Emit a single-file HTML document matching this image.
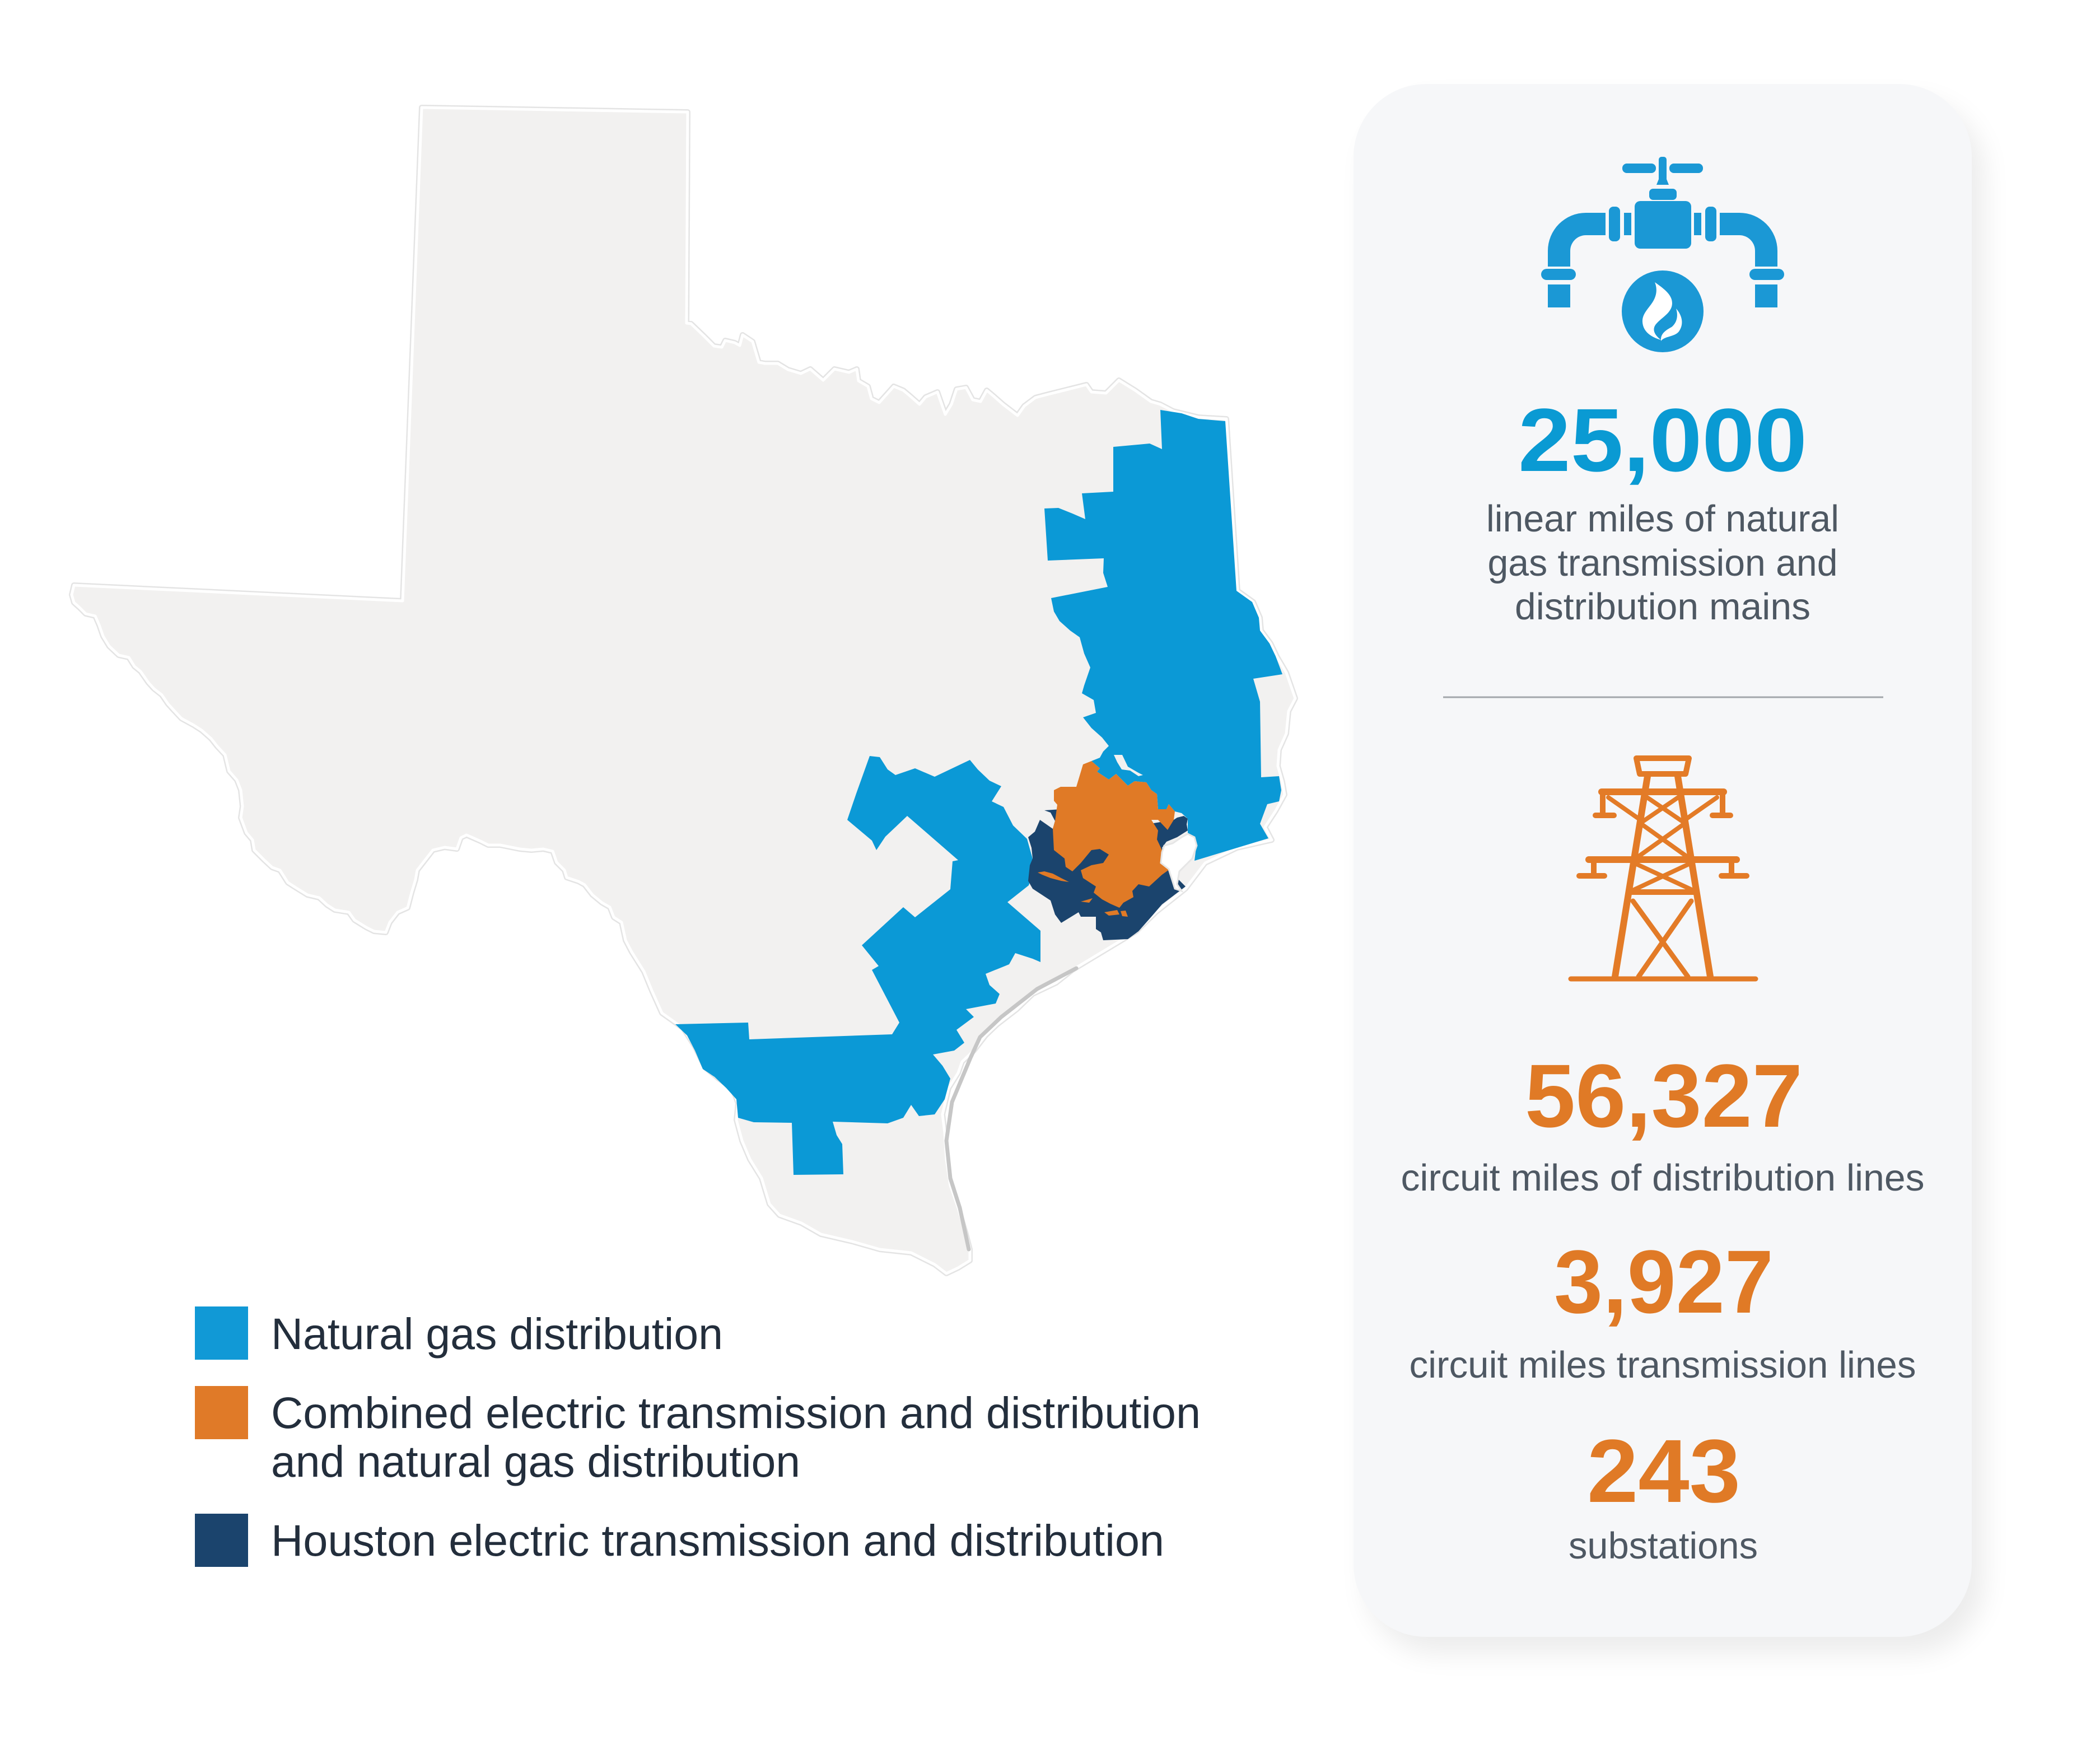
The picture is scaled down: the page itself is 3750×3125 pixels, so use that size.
<!DOCTYPE html>
<html>
<head>
<meta charset="utf-8">
<style>
  html,body{margin:0;padding:0;background:#ffffff;}
  body{width:3750px;height:3125px;position:relative;overflow:hidden;}
  .card{position:absolute;left:2417px;top:150px;width:1104px;height:2773px;border-radius:130px;background:#f6f7f9;box-shadow:22px 30px 48px rgba(0,0,0,0.08);}
  svg{position:absolute;left:0;top:0;}
</style>
</head>
<body>
<div class="card"></div>
<svg width="3750" height="3125" viewBox="0 0 3750 3125" xmlns="http://www.w3.org/2000/svg">
  <defs>
    <polygon id="tx" points="753,192 1228,200 1226,577 1234,578 1257,600 1275,618 1289,620 1295,608 1312,612 1321,617 1326,598 1344,610 1355,647 1366,649 1389,649 1407,660 1430,667 1447,659 1470,679 1490,659 1516,665 1530,659 1533,680 1550,690 1556,712 1570,719 1596,690 1613,697 1625,707 1642,722 1653,709 1674,700 1688,740 1699,722 1708,695 1725,692 1737,714 1751,717 1762,697 1774,707 1791,722 1817,742 1829,725 1849,710 1872,704 1912,694 1940,687 1949,700 1975,702 1998,679 2027,697 2055,717 2072,722 2095,734 2140,745 2190,748 2210,1055 2238,1075 2250,1103 2252,1126 2269,1149 2280,1172 2297,1201 2305,1224 2313,1247 2301,1270 2297,1310 2284,1339 2282,1368 2290,1396 2294,1419 2278,1448 2259,1477 2271,1500 2209,1514 2152,1541 2117,1587 2064,1629 2029,1663 2003,1679 1915,1732 1886,1755 1844,1775 1816,1802 1781,1829 1760,1849 1739,1876 1718,1896 1711,1916 1694,1943 1683,1990 1687,2023 1690,2070 1697,2117 1711,2157 1725,2204 1732,2231 1732,2251 1711,2264 1690,2274 1669,2258 1627,2237 1571,2231 1522,2217 1466,2204 1431,2184 1392,2170 1374,2150 1360,2104 1339,2070 1325,2037 1315,2000 1318,1970 1308,1943 1283,1926 1259,1906 1241,1869 1220,1836 1182,1809 1164,1769 1150,1735 1128,1700 1117,1679 1110,1647 1096,1638 1089,1620 1075,1612 1058,1598 1044,1580 1033,1574 1012,1567 1008,1554 994,1540 987,1520 970,1516 949,1518 928,1516 893,1509 872,1509 858,1502 833,1491 823,1496 816,1516 794,1513 773,1518 759,1536 745,1554 742,1571 735,1594 728,1621 710,1629 696,1647 689,1665 668,1663 654,1656 633,1643 623,1629 598,1625 584,1616 570,1603 549,1598 528,1585 514,1576 500,1554 486,1549 472,1536 454,1518 451,1500 440,1487 430,1460 433,1440 430,1411 423,1393 409,1377 402,1348 388,1333 377,1319 360,1304 346,1295 324,1283 310,1268 300,1257 289,1241 275,1230 265,1219 251,1199 240,1190 230,1174 212,1170 195,1154 184,1136 177,1116 170,1100 153,1096 142,1085 132,1076 128,1062 132,1045 719,1073"/>
  </defs>
  <!-- Texas -->
  <use href="#tx" fill="#f2f1f0" stroke="#e4e4e4" stroke-width="10" stroke-linejoin="round"/>
  <use href="#tx" fill="#f2f1f0" stroke="#ffffff" stroke-width="5" stroke-linejoin="round"/>

  <!-- NE blue -->
  <polygon fill="#0b99d6" points="2072,732 2110,738 2140,748 2188,752 2208,1055 2236,1075 2248,1103 2250,1126 2267,1149 2278,1172 2290,1204 2238,1212 2250,1253 2252,1388 2284,1386 2288,1411 2284,1431 2263,1436 2250,1471 2265,1497 2133,1537 2137,1505 2121,1489 2121,1462 2110,1452 2098,1449 2087,1436 2083,1445 2068,1445 2066,1418 2056,1411 2047,1397 2026,1395 2014,1403 1993,1382 1980,1392 1959,1378 1964,1372 1949,1359 1964,1353 1970,1342 1980,1332 1968,1317 1949,1300 1934,1281 1957,1273 1953,1250 1932,1238 1936,1224 1947,1192 1936,1167 1928,1138 1911,1126 1892,1109 1882,1092 1877,1068 1978,1048 1970,1023 1971,997 1871,1001 1865,908 1890,907 1915,917 1938,927 1932,881 1988,878 1988,798 2053,792 2075,802"/>
  <!-- lake gap -->
  <polygon fill="#f2f1f0" points="1989,1348 2004,1348 2014,1369 2033,1380 2041,1384 2033,1386 2018,1376 2003,1374 1995,1361"/>

  <!-- central / south blue -->
  <polygon fill="#0b99d6" points="1553,1350 1571,1352 1585,1374 1599,1384 1634,1372 1669,1387 1732,1357 1746,1374 1767,1394 1788,1404 1771,1431 1792,1441 1809,1474 1834,1498 1848,1548 1837,1581 1799,1611 1858,1662 1858,1718 1844,1712 1813,1702 1802,1722 1760,1739 1767,1759 1785,1775 1778,1792 1725,1802 1739,1816 1708,1839 1722,1862 1704,1876 1666,1883 1683,1903 1697,1926 1687,1963 1669,1990 1641,1993 1627,1973 1613,1996 1585,2006 1487,2003 1494,2027 1504,2043 1506,2097 1417,2098 1414,2005 1346,2004 1318,1996 1315,1963 1297,1943 1276,1923 1255,1909 1241,1876 1227,1849 1206,1829 1336,1826 1338,1856 1593,1847 1606,1826 1557,1732 1569,1725 1539,1688 1613,1620 1634,1638 1697,1588 1701,1538 1711,1536 1620,1457 1599,1477 1581,1494 1565,1518 1557,1501 1513,1464 1529,1417"/>

  <!-- navy -->
  <polygon fill="#1b446d" points="1865,1447 1876,1451 1884,1466 1880,1480 1857,1464 1848,1485 1836,1495 1842,1514 1844,1533 1839,1545 1836,1573 1844,1587 1876,1608 1884,1633 1895,1648 1926,1629 1930,1637 1957,1637 1957,1659 1966,1665 1970,1679 2014,1677 2033,1663 2056,1637 2075,1615 2117,1583 2096,1562 2089,1552 2075,1514 2083,1503 2102,1495 2121,1483 2119,1472 2121,1462 2114,1457 2102,1460 2096,1464 2000,1480 1895,1445"/>

  <!-- orange -->
  <polygon fill="#e07a26" points="1934,1365 1949,1359 1964,1372 1959,1378 1980,1392 1993,1382 2014,1403 2026,1395 2047,1397 2056,1411 2066,1418 2068,1445 2083,1445 2087,1436 2098,1449 2096,1464 2085,1482 2068,1464 2056,1464 2068,1483 2066,1499 2075,1518 2073,1541 2089,1552 2075,1562 2052,1583 2033,1579 2022,1591 2024,1602 2006,1612 1999,1621 1983,1614 1968,1606 1953,1594 1957,1583 1934,1568 1930,1554 1949,1545 1970,1541 1980,1526 1964,1516 1949,1518 1930,1541 1915,1556 1903,1548 1901,1533 1882,1518 1880,1480 1884,1466 1888,1437 1882,1430 1882,1411 1894,1405 1922,1405"/>
  <polygon fill="#e07a26" points="1853,1558 1865,1556 1880,1560 1895,1568 1909,1575 1895,1573 1876,1568 1861,1562"/>
  <polygon fill="#e07a26" points="1972,1629 1995,1625 1999,1633 1980,1635"/>
  <polygon fill="#e07a26" points="2001,1627 2010,1626 2014,1637 2004,1636"/>
  <polygon fill="#e07a26" points="1930,1610 1951,1604 1945,1612"/>

  <!-- Galveston bay -->
  <polygon fill="#ffffff" stroke="#e6e6e6" stroke-width="3" points="2079,1510 2094,1506 2110,1495 2121,1489 2133,1495 2137,1510 2129,1533 2117,1545 2106,1556 2102,1579 2110,1591 2098,1587 2092,1568 2087,1552 2073,1541 2075,1522"/>

  <!-- barrier island line -->
  <polyline fill="none" stroke="#c6c6c6" stroke-width="7" stroke-linecap="round" stroke-linejoin="round" points="1922,1729 1852,1766 1788,1816 1750,1852 1733,1889 1700,1968 1690,2037 1697,2104 1714,2157 1730,2231"/>

  <!-- Legend -->
  <rect x="348" y="2333" width="95" height="95" fill="#1199d6"/>
  <rect x="348" y="2475" width="95" height="95" fill="#e07a28"/>
  <rect x="348" y="2703" width="95" height="95" fill="#1b446d"/>
  <g font-family="Liberation Sans, sans-serif" font-size="79" fill="#232e3c">
    <text x="484" y="2409" textLength="807" lengthAdjust="spacingAndGlyphs">Natural gas distribution</text>
    <text x="484" y="2550" textLength="1660" lengthAdjust="spacingAndGlyphs">Combined electric transmission and distribution</text>
    <text x="484" y="2637" textLength="945" lengthAdjust="spacingAndGlyphs">and natural gas distribution</text>
    <text x="484" y="2778" textLength="1595" lengthAdjust="spacingAndGlyphs">Houston electric transmission and distribution</text>
  </g>

  <!-- Pipe icon -->
  <g fill="#1b98d5">
    <rect x="2897" y="292" width="60" height="17" rx="8"/>
    <rect x="2981" y="292" width="60" height="17" rx="8"/>
    <rect x="2962" y="280" width="14" height="48" rx="5"/>
    <polygon points="2958,330 2980,330 2976,320 2962,320"/>
    <rect x="2945" y="337" width="49" height="20" rx="7"/>
    <rect x="2919" y="359" width="101" height="85" rx="10"/>
    <g>
      <rect x="2900" y="380" width="13" height="40"/>
      <rect x="2873" y="369" width="20" height="62" rx="8"/>
      <path d="M2867,380 L2832,380 A68,68 0 0 0 2764,448 L2764,476 L2804,476 L2804,448 A28,28 0 0 1 2832,420 L2867,420 Z"/>
      <rect x="2752" y="480" width="62" height="20" rx="10"/>
      <rect x="2764" y="508" width="40" height="41"/>
    </g>
    <g transform="translate(5938,0) scale(-1,1)">
      <rect x="2900" y="380" width="13" height="40"/>
      <rect x="2873" y="369" width="20" height="62" rx="8"/>
      <path d="M2867,380 L2832,380 A68,68 0 0 0 2764,448 L2764,476 L2804,476 L2804,448 A28,28 0 0 1 2832,420 L2867,420 Z"/>
      <rect x="2752" y="480" width="62" height="20" rx="10"/>
      <rect x="2764" y="508" width="40" height="41"/>
    </g>
    <circle cx="2969" cy="556" r="73"/>
  </g>
  <g fill="#ffffff">
    <path d="M2955,504 C2975,518 2990,530 2985,548 C2980,563 2962,570 2955,582 C2950,592 2958,601 2966,607 C2948,602 2934,592 2933,575 C2932,560 2945,550 2952,538 C2958,528 2960,516 2955,504 Z"/>
    <path d="M2993,551 C3003,562 3008,578 2998,592 C2990,602 2972,600 2966,609 C2965,597 2972,591 2985,584 C2995,576 2997,563 2993,551 Z"/>
  </g>

  <!-- Divider -->
  <line x1="2577" y1="1245" x2="3363" y2="1245" stroke="#a3a7ab" stroke-width="3"/>

  <!-- Tower icon -->
  <g stroke="#e37b27" fill="none" stroke-linecap="round" stroke-linejoin="round">
    <path stroke-width="10" d="M2922,1354 L3016,1354 L3010,1382 L2928,1382 Z"/>
    <line stroke-width="12" x1="2942" y1="1386" x2="2884" y2="1744"/>
    <line stroke-width="12" x1="2996" y1="1386" x2="3054" y2="1744"/>
    <line stroke-width="12" x1="2860" y1="1414" x2="3078" y2="1414"/>
    <path stroke-width="10" d="M2862,1414 V1454 M2849,1456 H2882 M3076,1414 V1454 M3058,1456 H3090"/>
    <path stroke-width="8" d="M2872,1424 L2932,1466 M3066,1424 L3006,1466"/>
    <line stroke-width="12" x1="2837" y1="1535" x2="3101" y2="1535"/>
    <path stroke-width="10" d="M2846,1535 V1562 M2820,1564 H2865 M3092,1535 V1562 M3074,1564 H3119"/>
    <path stroke-width="8" d="M2937,1421 L3009,1470 M3001,1421 L2929,1470 M2929,1470 L3020,1535 M3009,1470 L2918,1535 M2918,1541 L3030,1593 M3020,1541 L2909,1593"/>
    <line stroke-width="10" x1="2909" y1="1593" x2="3030" y2="1593"/>
    <path stroke-width="9" d="M2916,1609 L3014,1744 M3020,1609 L2926,1744"/>
    <line stroke-width="9" x1="2805" y1="1748" x2="3135" y2="1748"/>
  </g>

  <!-- Stats text -->
  <g font-family="Liberation Sans, sans-serif" text-anchor="middle">
    <text x="2969" y="841" font-size="160" font-weight="bold" fill="#0a9ad3" textLength="516" lengthAdjust="spacingAndGlyphs">25,000</text>
    <g font-size="67" fill="#4e5863">
      <text x="2969" y="949" textLength="630" lengthAdjust="spacingAndGlyphs">linear miles of natural</text>
      <text x="2969" y="1028" textLength="625" lengthAdjust="spacingAndGlyphs">gas transmission and</text>
      <text x="2969" y="1106" textLength="528" lengthAdjust="spacingAndGlyphs">distribution mains</text>
      <text x="2969" y="2126" textLength="935" lengthAdjust="spacingAndGlyphs">circuit miles of distribution lines</text>
      <text x="2969" y="2460" textLength="905" lengthAdjust="spacingAndGlyphs">circuit miles transmission lines</text>
      <text x="2970" y="2783" textLength="338" lengthAdjust="spacingAndGlyphs">substations</text>
    </g>
    <g font-size="160" font-weight="bold" fill="#e07a26">
      <text x="2971" y="2012" textLength="496" lengthAdjust="spacingAndGlyphs">56,327</text>
      <text x="2971" y="2344" textLength="392" lengthAdjust="spacingAndGlyphs">3,927</text>
      <text x="2971" y="2682" textLength="274" lengthAdjust="spacingAndGlyphs">243</text>
    </g>
  </g>
</svg>
</body>
</html>
